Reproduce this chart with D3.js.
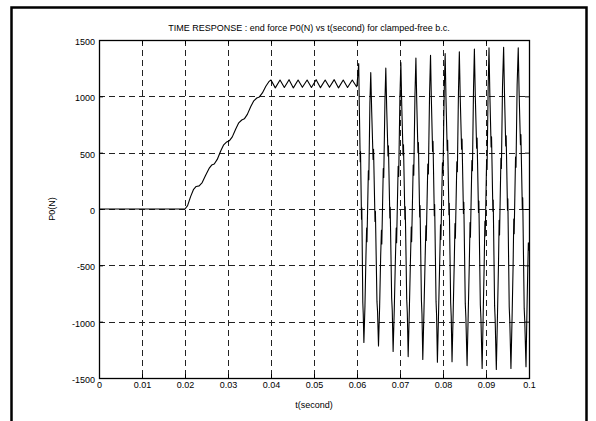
<!DOCTYPE html>
<html>
<head>
<meta charset="utf-8">
<script src="https://cdn.jsdelivr.net/npm/d3@7"></script>
<style>
  html, body { margin: 0; padding: 0; background: #fff; }
  svg { display: block; }
  text { font-family: Arial, "Liberation Sans", Helvetica, sans-serif; fill: #000; }
</style>
</head>
<body>
<svg id="chart" width="596" height="421"></svg>
<script>
// End force P0 (N) against time t (s), clamped-free boundary condition.

// Before loading: the force stays at zero.
const restT = [0, 0.02];
const restF = [0, 0];

// Loading ramp, rising in small steps.
const rampT = [0.0206, 0.0213, 0.0220, 0.0226, 0.0233, 0.0240, 0.0248, 0.0256, 0.0262, 0.0268,
               0.0275, 0.0283, 0.0290, 0.0297, 0.0303, 0.0310, 0.0318, 0.0325, 0.0332, 0.0338,
               0.0345, 0.0353, 0.0360, 0.0367, 0.0373, 0.0380, 0.0388, 0.0395, 0.0400];
const rampF = [30, 110, 175, 200, 205, 235, 300, 360, 390, 400,
               440, 515, 570, 595, 605, 640, 710, 765, 790, 800,
               840, 910, 960, 985, 995, 1030, 1090, 1130, 1145];

// Holding phase: small ripple around 1100 N.
const holdT = [0.0410, 0.0421, 0.0431, 0.0442, 0.0452, 0.0463, 0.0473, 0.0484, 0.0494, 0.0505,
               0.0515, 0.0526, 0.0536, 0.0547, 0.0557, 0.0568, 0.0578, 0.0589, 0.0599, 0.0600];
const holdF = [1075, 1145, 1078, 1148, 1075, 1145, 1080, 1145, 1078, 1148,
               1077, 1145, 1080, 1148, 1075, 1145, 1078, 1145, 1085, 1100];

// Free vibration after release.
const freeT = [
  0.06040, 0.06055, 0.06075, 0.06082, 0.06105, 0.06112, 0.06135, 0.06145, 0.06160,
  0.06185, 0.06208, 0.06224, 0.06232, 0.06264, 0.06275, 0.06300, 0.06320,
  0.06342, 0.06374, 0.06385, 0.06419, 0.06428, 0.06464, 0.06478, 0.06500,
  0.06526, 0.06551, 0.06568, 0.06577, 0.06611, 0.06622, 0.06650, 0.06670,
  0.06690, 0.06721, 0.06731, 0.06764, 0.06772, 0.06806, 0.06820, 0.06840,
  0.06867, 0.06894, 0.06912, 0.06921, 0.06957, 0.06970, 0.06998, 0.07020,
  0.07040, 0.07071, 0.07081, 0.07114, 0.07122, 0.07156, 0.07170, 0.07190,
  0.07217, 0.07244, 0.07262, 0.07271, 0.07307, 0.07320, 0.07348, 0.07370,
  0.07389, 0.07418, 0.07428, 0.07458, 0.07466, 0.07498, 0.07511, 0.07530,
  0.07557, 0.07584, 0.07602, 0.07611, 0.07647, 0.07660, 0.07688, 0.07710,
  0.07729, 0.07758, 0.07768, 0.07798, 0.07806, 0.07838, 0.07851, 0.07870,
  0.07897, 0.07924, 0.07942, 0.07951, 0.07987, 0.08000, 0.08028, 0.08050,
  0.08069, 0.08098, 0.08108, 0.08138, 0.08146, 0.08178, 0.08191, 0.08210,
  0.08236, 0.08262, 0.08279, 0.08288, 0.08322, 0.08334, 0.08360, 0.08380,
  0.08400, 0.08432, 0.08443, 0.08475, 0.08484, 0.08518, 0.08532, 0.08560,
  0.08586, 0.08612, 0.08629, 0.08638, 0.08672, 0.08684, 0.08710, 0.08730,
  0.08750, 0.08782, 0.08793, 0.08825, 0.08834, 0.08868, 0.08882, 0.08910,
  0.08934, 0.08958, 0.08974, 0.08982, 0.09014, 0.09025, 0.09050, 0.09070,
  0.09089, 0.09119, 0.09129, 0.09160, 0.09168, 0.09200, 0.09213, 0.09240,
  0.09266, 0.09290, 0.09306, 0.09315, 0.09347, 0.09358, 0.09384, 0.09410,
  0.09429, 0.09459, 0.09469, 0.09500, 0.09508, 0.09540, 0.09553, 0.09580,
  0.09606, 0.09630, 0.09646, 0.09655, 0.09687, 0.09698, 0.09724, 0.09750,
  0.09769, 0.09801, 0.09812, 0.09845, 0.09854, 0.09888, 0.09902, 0.09930,
  0.09950, 0.09972, 0.09985, 0.10000
];
const freeF = [
  1290, 880, 420, 510, -90, 10, -830, -930, -1185,
  -860, -420, -170, -290, 340, 260, 940, 1210,
  860, 440, 530, -110, -20, -820, -910, -1215,
  -870, -410, -190, -310, 360, 280, 960, 1250,
  900, 470, 560, -80, 15, -790, -900, -1265,
  -890, -430, -170, -300, 380, 290, 990, 1300,
  930, 480, 570, -90, 20, -800, -920, -1310,
  -900, -440, -160, -290, 390, 300, 1010, 1340,
  960, 500, 590, -70, 30, -810, -930, -1335,
  -910, -450, -150, -280, 400, 310, 1030, 1365,
  980, 510, 600, -60, 40, -820, -940, -1360,
  -920, -460, -140, -270, 410, 320, 1040, 1380,
  990, 520, 610, -50, 50, -830, -950, -1355,
  -930, -470, -130, -260, 420, 330, 1050, 1395,
  1000, 530, 620, -40, 60, -840, -960, -1390,
  -940, -480, -120, -250, 430, 340, 1070, 1420,
  1020, 540, 630, -30, 70, -850, -970, -1415,
  -950, -490, -110, -240, 440, 350, 1080, 1430,
  1030, 550, 640, -20, 80, -860, -980, -1425,
  -960, -500, -100, -230, 450, 360, 1090, 1435,
  1040, 560, 650, -10, 90, -870, -990, -1415,
  -970, -510, -90, -220, 460, 370, 1100, 1430,
  1050, 570, 660, 0, 100, -880, -1000, -1400,
  -960, -520, -300, -370
];

const xTicks = [0, 0.01, 0.02, 0.03, 0.04, 0.05, 0.06, 0.07, 0.08, 0.09, 0.1];
const yTicks = [-1500, -1000, -500, 0, 500, 1000, 1500];

const titleText = "TIME RESPONSE : end force P0(N) vs t(second) for clamped-free b.c.";
const xLabelText = "t(second)";
const yLabelText = "P0(N)";

const times = [...restT, ...rampT, ...holdT, ...freeT];
const forces = [...restF, ...rampF, ...holdF, ...freeF];
const series = times.map((t, i) => ({ t, f: forces[i] }));

const svg = d3.select("#chart");
const W = 596, H = 421;
const plot = { left: 99, right: 529, top: 40, bottom: 378 };

const x = d3.scaleLinear().domain([0, 0.1]).range([plot.left, plot.right]);
const y = d3.scaleLinear().domain([-1500, 1500]).range([plot.bottom, plot.top]);

svg.append("rect").attr("width", W).attr("height", H).attr("fill", "#fff");

// Figure frame
const frame = svg.append("g").attr("stroke", "#000").attr("stroke-width", 2.5).attr("fill", "none");
frame.append("path").attr("d", `M11.5,${H} V7.5 H586.5 V${H}`);

// Dashed grid
const grid = svg.append("g").attr("stroke", "#222").attr("stroke-width", 1)
  .attr("stroke-dasharray", "6,4").attr("shape-rendering", "crispEdges");
grid.selectAll("line.v").data(xTicks.slice(1, -1)).join("line")
  .attr("x1", d => Math.round(x(d)) + 0.5).attr("x2", d => Math.round(x(d)) + 0.5)
  .attr("y1", plot.top).attr("y2", plot.bottom);
grid.selectAll("line.h").data(yTicks.slice(1, -1)).join("line")
  .attr("y1", d => Math.round(y(d)) + 0.5).attr("y2", d => Math.round(y(d)) + 0.5)
  .attr("x1", plot.left).attr("x2", plot.right);

// Axes with inward ticks on all four sides
const fmt = d => String(d);
const tick = 4;
function styleAxis(g) {
  g.select(".domain").remove();
  g.selectAll(".tick line").attr("stroke", "#000").attr("stroke-width", 1);
  g.selectAll(".tick text").attr("font-size", 9).attr("fill", "#000")
    .style("font-family", "Arial, 'Liberation Sans', sans-serif");
}
svg.append("g").attr("transform", `translate(0,${plot.bottom})`)
  .call(d3.axisBottom(x).tickValues(xTicks).tickFormat(fmt).tickSizeInner(-tick).tickSizeOuter(0).tickPadding(4))
  .call(styleAxis);
svg.append("g").attr("transform", `translate(0,${plot.top})`)
  .call(d3.axisTop(x).tickValues(xTicks).tickFormat("").tickSizeInner(-tick).tickSizeOuter(0))
  .call(styleAxis);
svg.append("g").attr("transform", `translate(${plot.left},0)`)
  .call(d3.axisLeft(y).tickValues(yTicks).tickFormat(fmt).tickSizeInner(-tick).tickSizeOuter(0).tickPadding(4))
  .call(styleAxis)
  .selectAll(".tick text").attr("dy", "0.5em");
svg.append("g").attr("transform", `translate(${plot.right},0)`)
  .call(d3.axisRight(y).tickValues(yTicks).tickFormat("").tickSizeInner(-tick).tickSizeOuter(0))
  .call(styleAxis);

// Axes box
svg.append("rect")
  .attr("x", plot.left + 0.5).attr("y", plot.top + 0.5)
  .attr("width", plot.right - plot.left).attr("height", plot.bottom - plot.top)
  .attr("fill", "none").attr("stroke", "#000").attr("stroke-width", 1.3);

// Force history
svg.append("path")
  .datum(series)
  .attr("fill", "none")
  .attr("stroke", "#000")
  .attr("stroke-width", 1.1)
  .attr("stroke-linejoin", "round")
  .attr("d", d3.line().x(d => x(d.t)).y(d => y(d.f)));

// Titles
svg.append("text").attr("x", 309).attr("y", 31)
  .attr("text-anchor", "middle").attr("font-size", 9).text(titleText);
svg.append("text").attr("x", (plot.left + plot.right) / 2).attr("y", 408)
  .attr("text-anchor", "middle").attr("font-size", 9).text(xLabelText);
svg.append("text").attr("transform", `translate(55,${(plot.top + plot.bottom) / 2}) rotate(-90)`)
  .attr("text-anchor", "middle").attr("font-size", 9).text(yLabelText);
</script>
</body>
</html>
